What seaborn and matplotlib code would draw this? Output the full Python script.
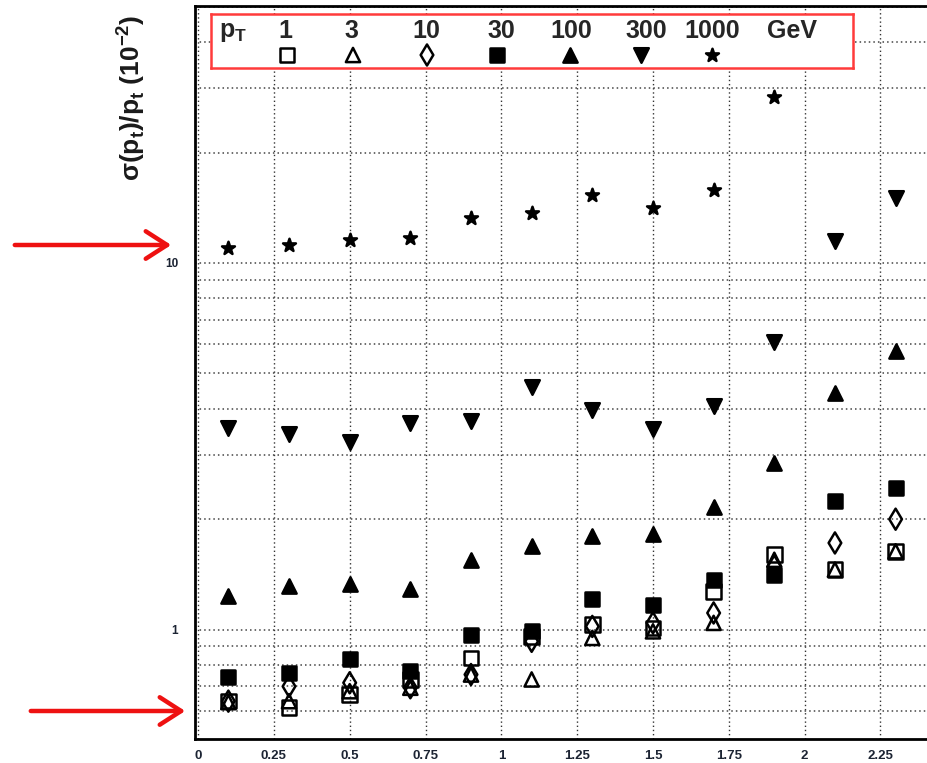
import matplotlib
matplotlib.use('Agg')
import matplotlib.pyplot as plt
import seaborn as sns
from matplotlib.patches import FancyArrowPatch
from matplotlib.ticker import FixedLocator, MultipleLocator, NullFormatter, FixedFormatter

# eta bin centres and resolution sigma(pt)/pt in units of 1e-2, one list per pT
eta = [0.1, 0.3, 0.5, 0.7, 0.9, 1.1, 1.3, 1.5, 1.7, 1.9, 2.1, 2.3]
pt_labels = ['1', '3', '10', '30', '100', '300', '1000']
res_1 = [0.638, 0.612, 0.665, 0.731, 0.837, 0.959, 1.032, 1.01, 1.272, 1.60, 1.457, 1.635]
res_3 = [0.634, 0.638, 0.679, 0.694, 0.754, 0.731, 0.949, 0.989, 1.043, 1.55, 1.457, 1.635]
res_10 = [0.638, 0.70, 0.716, 0.694, 0.754, 0.929, 1.02, 1.043, 1.11, 1.49, 1.723, 2.0]
res_30 = [0.743, 0.762, 0.829, 0.770, 0.969, 0.989, 1.215, 1.170, 1.368, 1.41, 2.236, 2.43]
res_100 = [1.232, 1.312, 1.332, 1.291, 1.551, 1.694, 1.796, 1.826, 2.154, 2.846, 4.42, 5.76]
res_300 = [3.55, 3.42, 3.25, 3.67, 3.70, 4.58, 3.98, 3.52, 4.08, 6.07, 11.46, 15.07]
res_1000 = [11.0, 11.17, 11.56, 11.67, 13.27, 13.64, 15.3, 14.16, 15.78, 28.3]  # stops at eta 1.9

x_ticks = [0, 0.25, 0.5, 0.75, 1, 1.25, 1.5, 1.75, 2, 2.25]
x_tick_labels = ['0', '0.25', '0.5', '0.75', '1', '1.25', '1.5', '1.75', '2', '2.25']

series = [res_1, res_3, res_10, res_30, res_100, res_300, res_1000]
# marker, filled, size
styles = [('s', False, 110), ('^', False, 105), ('d', False, 115),
          ('s', True, 105), ('^', True, 105), ('v', True, 110), ('*', True, 95)]

sns.set_theme(style='white')
plt.rcParams['font.family'] = ['Liberation Sans', 'DejaVu Sans']
plt.rcParams['mathtext.fontset'] = 'custom'
plt.rcParams['mathtext.rm'] = 'Liberation Sans'
plt.rcParams['mathtext.bf'] = 'Liberation Sans:bold'

W, H = 928, 763
fig = plt.figure(figsize=(W / 100, H / 100), dpi=100)
fig.patch.set_facecolor('white')

# axes in pixel terms: left spine 195, bottom 739, top 6, runs off right edge
ax = fig.add_axes([195 / W, 1 - 739 / H, (932 - 195) / W, (739 - 6) / H])

for vals, (m, filled, s) in zip(series, styles):
    sns.scatterplot(x=eta[:len(vals)], y=vals, ax=ax, marker=m, s=s,
                    facecolor='black' if filled else 'none', edgecolor='black',
                    linewidth=1.8, zorder=3)

ax.set_yscale('log')
ax.set_xlim(-0.01, 2.42)
ax.set_ylim(0.503, 50.2)

ax.xaxis.set_major_locator(FixedLocator(x_ticks))
ax.xaxis.set_major_formatter(FixedFormatter(x_tick_labels))
ax.xaxis.set_minor_locator(MultipleLocator(0.05))
ax.yaxis.set_major_locator(FixedLocator([1, 10]))
ax.yaxis.set_major_formatter(FixedFormatter(['1', '10']))
ax.yaxis.set_minor_locator(FixedLocator([0.5, 0.6, 0.7, 0.8, 0.9, 2, 3, 4, 5, 6, 7, 8, 9, 20, 30, 40, 50]))
ax.yaxis.set_minor_formatter(NullFormatter())

ax.tick_params(axis='both', which='both', direction='in', color='black')
ax.tick_params(axis='x', which='major', length=10, width=1.2, pad=8, labelsize=9.5)
ax.tick_params(axis='x', which='minor', length=5, width=1)
ax.tick_params(axis='y', which='major', length=9, width=1.2, pad=12, labelsize=8.5)
ax.tick_params(axis='y', which='minor', length=5, width=1)
for lab in ax.get_xticklabels() + ax.get_yticklabels():
    lab.set_fontweight('bold')
    lab.set_color('#1c2433')

ax.grid(False)
ax.xaxis.grid(True, which='major', linestyle=(0, (1, 2)), color='#333333', linewidth=1)
ax.yaxis.grid(True, which='both', linestyle=(0, (1, 2)), color='#444444', linewidth=1.1)
ax.set_axisbelow(True)

for side in ['left', 'bottom', 'top']:
    ax.spines[side].set_color('black')
    ax.spines[side].set_linewidth(2)
ax.spines['right'].set_visible(False)
ax.set_xlabel('')
ax.set_ylabel('')

fig.text(131 / W, 1 - 98 / H, 'σ(p$_\\mathbf{t}$)/p$_\\mathbf{t}$ (10$^\\mathbf{-2}$)',
         rotation=90, ha='center', va='center', fontsize=19, fontweight='bold',
         color='#1a1a1a')

# legend box drawn in pixel coordinates
leg = fig.add_axes([211 / W, 1 - 68 / H, (853 - 211) / W, (68 - 14) / H])
leg.set_xlim(211, 853)
leg.set_ylim(68, 14)
leg.set_facecolor('white')
leg.set_xticks([])
leg.set_yticks([])
for sp in leg.spines.values():
    sp.set_color('#ff3b3b')
    sp.set_linewidth(1.8)

text_x = [285, 351, 426, 501, 571, 646, 712]
mark_x = [287, 353, 427, 497, 570, 641, 712]
leg.text(233, 32, 'p$_\\mathbf{T}$', ha='center', va='center', fontsize=18, fontweight='bold')
for tx, lbl in zip(text_x, pt_labels):
    leg.text(tx, 31, lbl, ha='center', va='center', fontsize=18, fontweight='bold')
leg.text(792, 31, 'GeV', ha='center', va='center', fontsize=18, fontweight='bold')
for mx, (m, filled, s) in zip(mark_x, styles):
    leg.scatter([mx], [55], marker=m, s=s, facecolor='black' if filled else 'none',
                edgecolor='black', linewidth=1.8)

# red arrows on the left
for x0, x1, yp in [(12, 174, 245), (28, 188, 711)]:
    arr = FancyArrowPatch((x0 / W, 1 - yp / H), (x1 / W, 1 - yp / H),
                          transform=fig.transFigure,
                          arrowstyle='->,head_length=0.7,head_width=0.45',
                          mutation_scale=22, color='#ee1111', linewidth=3.2)
    fig.add_artist(arr)

fig.savefig('out.png', dpi=100, facecolor='white')
